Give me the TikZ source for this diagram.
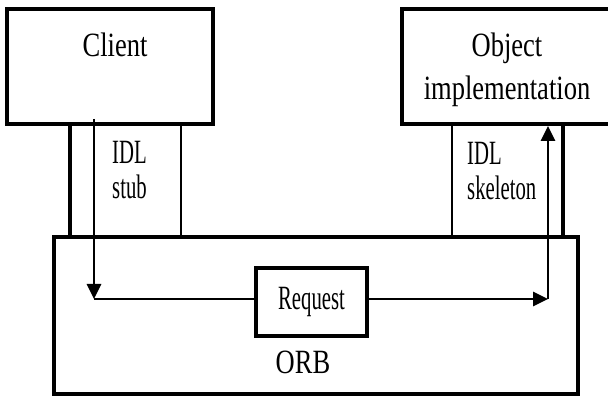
\documentclass[tikz,border=0pt]{standalone}
\usepackage{fontspec}
\setmainfont{Liberation Serif}
\newfontfamily\boxfont{Liberation Serif}[FakeStretch=0.78]
\newfontfamily\lblfont{Liberation Serif}[FakeStretch=0.61]
\usetikzlibrary{arrows.meta}
\tikzset{bigbox/.style={draw,line width=3.8pt,inner sep=0pt},
  boxtext/.style={font=\boxfont\fontsize{34}{43}\selectfont,inner sep=0pt,align=center},
  idltext/.style={font=\lblfont\fontsize{34}{35}\selectfont,inner sep=0pt,align=left},
  flow/.style={line width=2.8pt,-{Triangle[length=15pt,width=14pt,fill=black]}}
}

\begin{document}
\begin{tikzpicture}[x=1pt,y=-1pt]
\useasboundingbox (0,0) rectangle (608,398);
% boxes
\node[bigbox,minimum width=206pt,minimum height=115pt] (client) at (110,66.5) {};
\node[bigbox,minimum width=210pt,minimum height=115pt] (objimpl) at (507,66.5) {};
\node[bigbox,minimum width=524pt,minimum height=157pt] (orb) at (316,315.5) {};
\node[draw,line width=3.2pt,inner sep=0pt,minimum width=111pt,minimum height=68pt,
  font=\lblfont\fontsize{34}{35}\selectfont] (request) at (311.5,302) {Request};
\node[boxtext,anchor=base] (clientlbl) at (115,57) {Client};
\node[boxtext,anchor=base] (objlbl) at (507,100) {Object\\implementation};
\node[boxtext,anchor=base] (orblbl) at (303,373) {ORB};
% stub and skeleton
\coordinate (1) at (70,124);
\coordinate (2) at (181,124);
\coordinate (3) at (452,124);
\coordinate (4) at (563,124);
\draw[line width=3.8pt] (1) -- (1 |- orb.north);
\draw[line width=2.8pt] (2) -- (2 |- orb.north);
\draw[line width=2.8pt] (3) -- (3 |- orb.north);
\draw[line width=3.8pt] (4) -- (4 |- orb.north);
\node[idltext,anchor=base west] (stublbl) at (112,199) {IDL\\stub};
\node[idltext,anchor=base west] (skellbl) at (467,200) {IDL\\skeleton};
% request path
\coordinate (a) at (94,119);
\coordinate (b) at (94,299);
\coordinate (c) at (548,299);
\draw[flow] (a) -- (b);
\draw[line width=2.8pt] (b) -- (b -| request.west);
\draw[flow] (request.east |- c) -- (c);
\draw[flow] (c) -- (c |- objimpl.south);
\end{tikzpicture}
\end{document}
